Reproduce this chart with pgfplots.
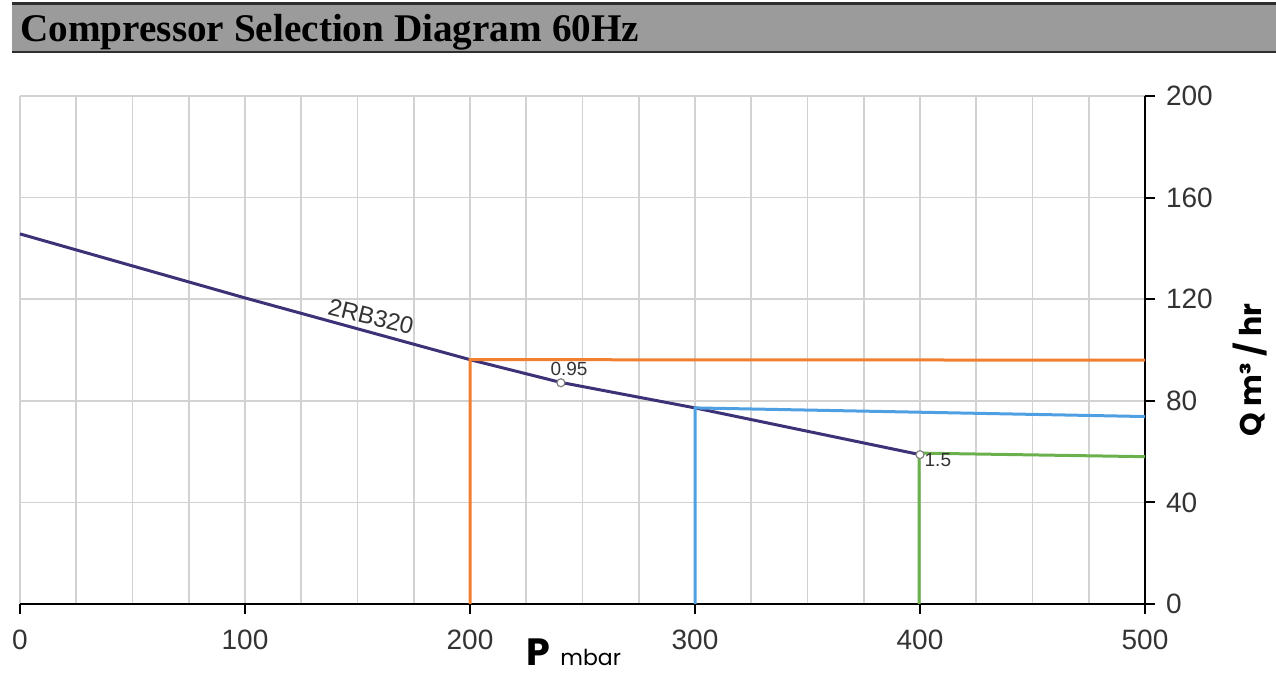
\documentclass[border=0pt]{standalone}
\usepackage{pgfplots}
\pgfplotsset{compat=1.18}
\usepackage{fontspec}
\setmainfont{Liberation Sans}
\newfontfamily\titlefont{Liberation Serif}
\newfontfamily\labfont{Poppins}
\definecolor{bar}{HTML}{9B9B9B}
\definecolor{bardark}{HTML}{2E2E2E}
\definecolor{gridc}{HTML}{D2D2D2}
\definecolor{tickc}{HTML}{333333}
\definecolor{cpurple}{HTML}{3B3278}
\definecolor{corange}{HTML}{F07F30}
\definecolor{cblue}{HTML}{4FA0E2}
\definecolor{cgreen}{HTML}{6AB04C}
\begin{document}
\begin{tikzpicture}
\useasboundingbox (0,0) rectangle (638pt,336.5pt);
% title bar
\fill[bar] (6pt,310.5pt) rectangle (638pt,334.5pt);
\draw[bardark, line width=1.5pt] (6pt,334.5pt) -- (638pt,334.5pt);
\draw[bardark, line width=1.2pt] (6pt,310.5pt) -- (638pt,310.5pt);
\node[anchor=base west, inner sep=0pt, text=black, font=\titlefont\bfseries\fontsize{19.6}{19.6}\selectfont] at (10pt,315.5pt) {Compressor Selection Diagram 60Hz};
\begin{axis}[
  at={(10pt,34.5pt)}, anchor=south west,
  scale only axis, width=562.5pt, height=254pt,
  xmin=0, xmax=500, ymin=0, ymax=200,
  axis x line*=bottom, axis y line*=right,
  axis line style={black, line width=1pt},
  xtick={0,100,...,500},
  minor xtick={25,50,75,125,150,175,225,250,275,325,350,375,425,450,475},
  ytick={0,40,...,200},
  grid=both,
  major grid style={gridc, line width=0.8pt},
  minor grid style={gridc, line width=0.8pt},
  tick align=outside,
  major tick length=5pt, minor tick length=0pt,
  tick style={black, line width=1pt},
  ticklabel style={text=tickc, font=\fontsize{14}{14}\selectfont},
  /pgf/number format/assume math mode=true,
  xticklabel style={yshift=-4.5pt},
  yticklabel style={xshift=2pt},
  clip=false,
]
\addplot[cpurple, line width=1.5pt] coordinates {(0,145.7) (100,120.5) (200,96.2) (240,87.3) (300,77.2) (400,58.8)};
\addplot[corange, line width=1.5pt] coordinates {(200,0) (200,96.2) (500,96.0)};
\addplot[cblue, line width=1.5pt] coordinates {(300,0) (300,77.2) (500,73.8)};
\addplot[cgreen, line width=1.5pt] coordinates {(399.6,0) (399.6,59.4) (500,58.0)};
\addplot[only marks, mark=*, mark size=2pt, mark options={fill=white, draw=gray, line width=0.6pt}] coordinates {(240.4,87.1) (400,58.8)};
\node[font=\fontsize{9.5}{9.5}\selectfont, text=tickc] at (axis cs:244,92.5) {0.95};
\node[font=\fontsize{9.5}{9.5}\selectfont, text=tickc, anchor=west, inner sep=1pt] at (axis cs:401,56.5) {1.5};
\node[font=\fontsize{12}{12}\selectfont, text=tickc, rotate=-13.8] at (axis cs:156,113.2) {2RB320};
\end{axis}
\node[anchor=base west, inner sep=0pt, font=\labfont\bfseries\fontsize{19}{19}\selectfont] at (263pt,3.5pt) {P};
\node[anchor=base west, inner sep=0pt, font=\labfont\fontsize{11}{11}\selectfont] at (280pt,3.5pt) {mbar};
\node[rotate=90, inner sep=0pt, font=\labfont\bfseries\fontsize{15}{15}\selectfont] at (625pt,151.5pt) {Q m³ / hr};
\end{tikzpicture}
\end{document}
